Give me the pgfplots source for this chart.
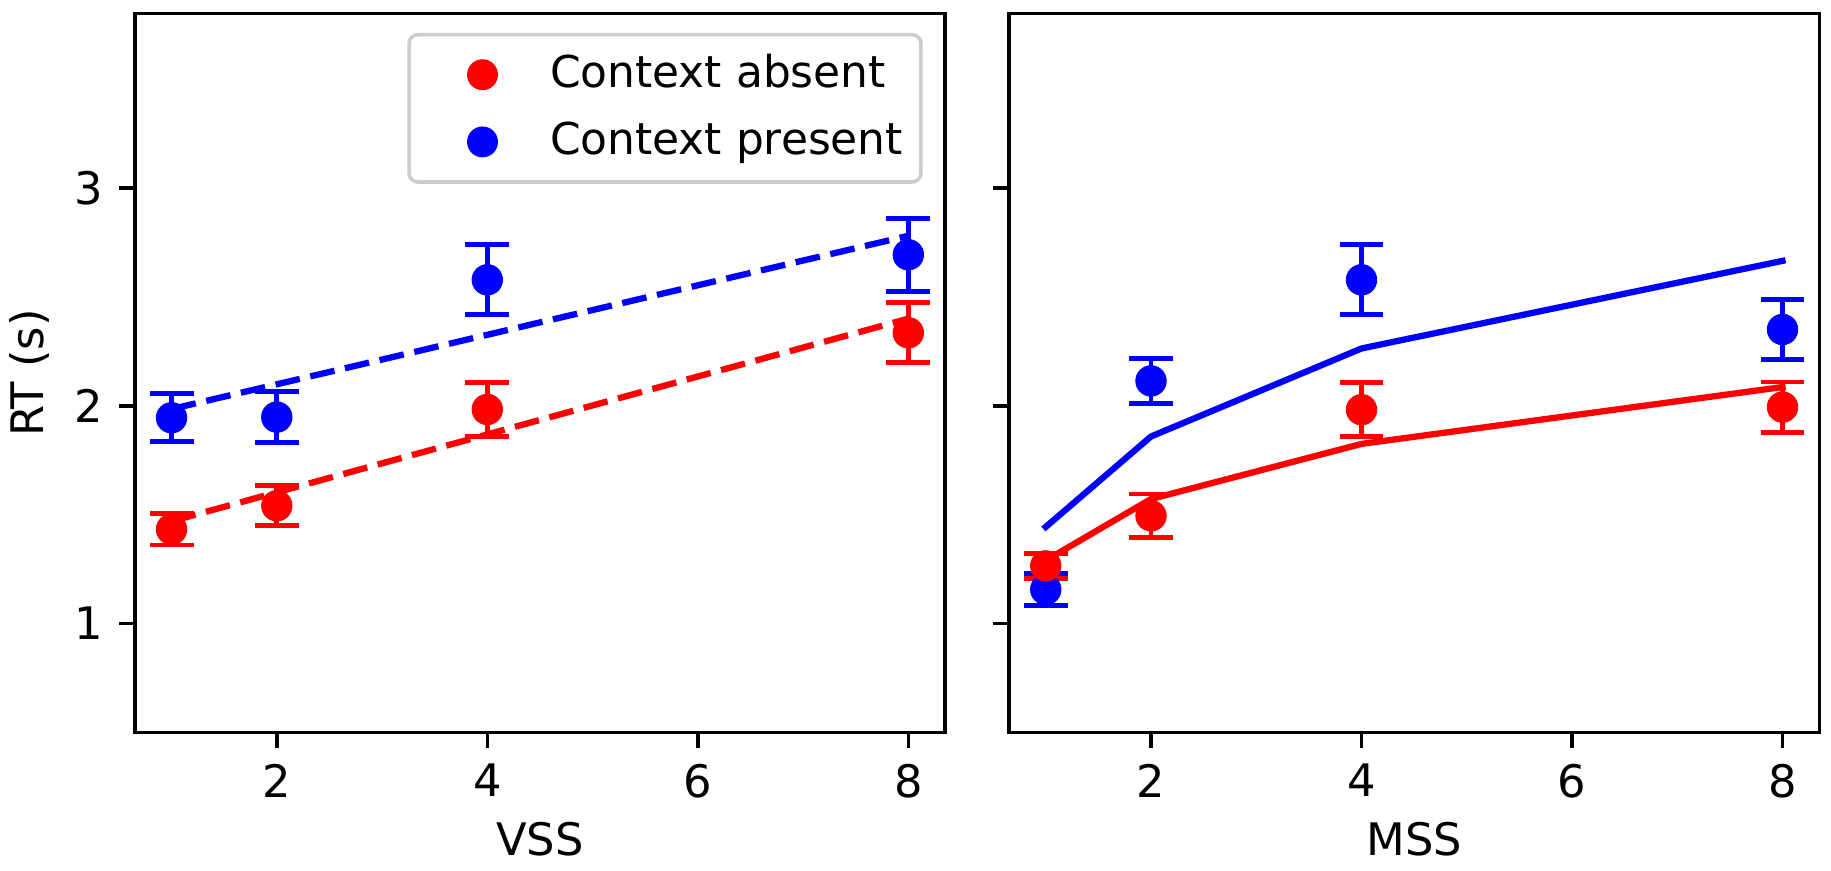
\documentclass[border=0pt]{standalone}
\usepackage{fontspec}
\setmainfont{DejaVu Sans}
\usepackage{pgfplots}
\usepackage{pgfplotstable}
\pgfplotsset{compat=1.18}

\definecolor{mplred}{RGB}{255,0,0}
\definecolor{mplblue}{RGB}{0,0,255}

\pgfplotstableread{
x y e
1 1.433 0.072
2 1.541 0.092
4 1.983 0.123
8 2.335 0.137
}\vssabsent
\pgfplotstableread{
x y e
1 1.945 0.110
2 1.948 0.118
4 2.578 0.160
8 2.693 0.167
}\vsspresent
\pgfplotstableread{
x y e
1 1.265 0.058
2 1.495 0.100
4 1.982 0.125
8 1.994 0.115
}\mssabsent
\pgfplotstableread{
x y e
1 1.157 0.075
2 2.114 0.102
4 2.578 0.160
8 2.350 0.137
}\msspresent

\pgfplotsset{
  panel/.style={
    scale only axis, width=180.9pt, height=160.5pt,
    xmin=0.65, xmax=8.35, ymin=0.5, ymax=3.8,
    xtick={2,4,6,8}, ytick={1,2,3},
    tick pos=left, tick align=outside,
    major tick length=3.5pt,
    major tick style={black, line width=0.8pt},
    axis line style={line width=0.8pt},
    /pgf/number format/assume math mode=true,
    ticklabel style={font=\fontsize{10}{12}\selectfont},
    label style={font=\fontsize{10}{12}\selectfont},
    xlabel style={at={(axis description cs:0.5,0)}, anchor=base, yshift=-27.5pt},
    clip=false,
  },
  pts/.style={only marks, mark=*, mark size=3.4pt, mark options={line width=0.2pt},
    error bars/.cd, y dir=both, y explicit, error mark=|,
    error bar style={line width=1.1pt},
    error mark options={line width=1.1pt, mark size=4.9pt}},
  fitline/.style={line width=1.4pt, no marks, line join=round},
}

\begin{document}
\begin{tikzpicture}
\path[use as bounding box] (0,0) rectangle (408.7pt,194.4pt);

\begin{axis}[panel,
  at={(30.07pt,30.87pt)}, anchor=south west,
  xlabel={VSS}, ylabel={RT (s)},
  ylabel style={at={(axis description cs:-0.1294,0.5)}, anchor=center},
  legend cell align=left,
  legend image code/.code={\path[draw=none, fill=none, sharp corners] (0pt,-4.75pt) rectangle (20pt,4.75pt); \fill[draw=none, sharp corners] (12.4pt,0pt) circle (3.45pt);},
  legend style={at={(1,1)}, anchor=north east, xshift=-5pt, yshift=-4.3pt,
    draw=black!20, line width=0.8pt, rounded corners=2pt, fill=white,
    inner xsep=4pt, inner ysep=4.2pt, row sep=5.5pt,
    font=\fontsize{9.8}{12}\selectfont,
    nodes={inner sep=0pt},
    /tikz/every odd column/.append style={column sep=7.5pt},
    /tikz/every even column/.append style={text height=7.3pt, text depth=2.2pt}},
]
\addplot[mplred, pts] table[x=x, y=y, y error=e] {\vssabsent};
\addlegendentry{Context absent}
\addplot[mplblue, pts] table[x=x, y=y, y error=e] {\vsspresent};
\addlegendentry{Context present}
\addplot[mplred, fitline, dash pattern=on 5.55pt off 2.4pt, forget plot] coordinates {(1,1.47) (8,2.40)};
\addplot[mplblue, fitline, dash pattern=on 5.55pt off 2.4pt, forget plot] coordinates {(1,1.985) (8,2.78)};
\end{axis}

\begin{axis}[panel,
  at={(225.2pt,30.87pt)}, anchor=south west,
  xlabel={MSS}, yticklabels={},
]
\addplot[mplblue, pts] table[x=x, y=y, y error=e] {\msspresent};
\addplot[mplred, pts] table[x=x, y=y, y error=e] {\mssabsent};
\addplot[mplred, fitline, line cap=rect] coordinates {(1,1.29) (2,1.572) (4,1.825) (8,2.086)};
\addplot[mplblue, fitline, line cap=rect] coordinates {(1,1.444) (2,1.859) (4,2.263) (8,2.665)};
\end{axis}
\end{tikzpicture}
\end{document}
